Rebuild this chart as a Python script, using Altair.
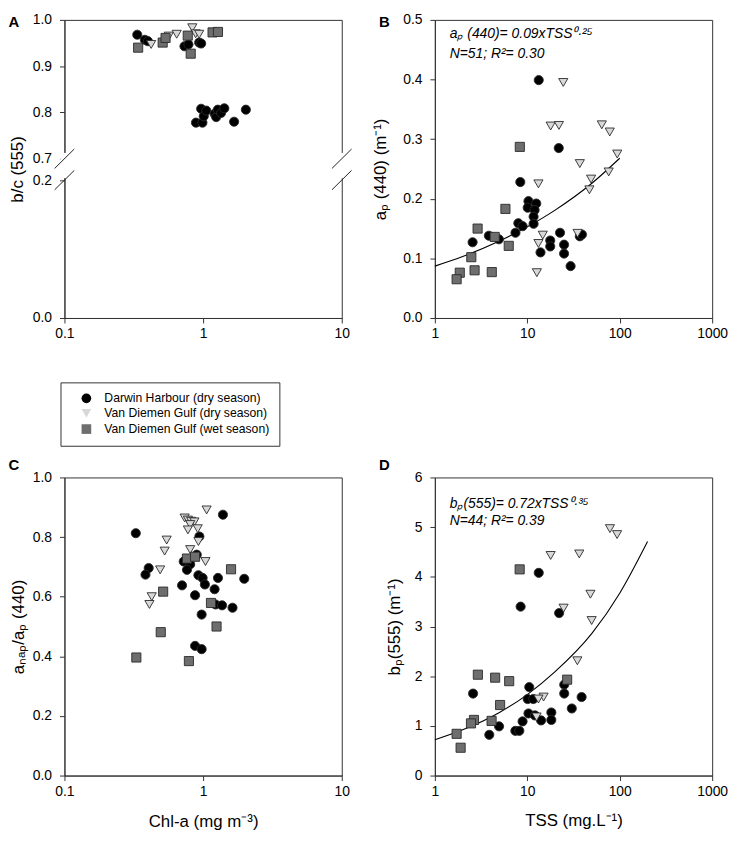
import altair as alt
import pandas as pd

FONT = "Liberation Sans"
GROUPS = ["Darwin Harbour (dry season)", "Van Diemen Gulf (dry season)", "Van Diemen Gulf (wet season)"]
FILLS = ["#000000", "#d8d8d8", "#6e6e6e"]
SHAPES = ["circle", "triangle-down", "square"]

# ---------------- Panel A : b/c(555) vs Chl-a ----------------
a_dh_chl = [0.335, 0.38, 0.40, 0.734, 0.784, 0.937, 0.968,
            0.888, 0.968, 0.989, 1.011, 1.055, 1.21, 1.242, 1.276, 1.347, 1.422, 1.673, 2.034]
a_dh_bc = [0.968, 0.957, 0.954, 0.943, 0.947, 0.951, 0.949,
           0.778, 0.808, 0.778, 0.792, 0.804, 0.797, 0.790, 0.806, 0.799, 0.809, 0.780, 0.806]
a_vdd_chl = [0.422, 0.566, 0.645, 0.836, 0.883, 0.937]
a_vdd_bc = [0.947, 0.965, 0.969, 0.983, 0.970, 0.969]
a_vdw_chl = [0.340, 0.511, 0.536, 0.775, 0.814, 1.17, 1.28]
a_vdw_bc = [0.940, 0.951, 0.961, 0.966, 0.927, 0.973, 0.974]
a_breaks = [0.7, 0.2]

# ---------------- Panel B : a_p(440) vs TSS ----------------
b_dh_tss = [13.3, 21.9, 8.4, 10.3, 10.1, 12.5, 12.0, 11.7, 11.7, 8.0, 8.9, 7.45, 2.56, 3.84,
            4.93, 13.9, 22.6, 17.7, 17.7, 25.0, 25.0, 29.4, 37.0, 39.0]
b_dh_ap = [0.399, 0.285, 0.228, 0.196, 0.185, 0.192, 0.181, 0.170, 0.158, 0.159, 0.154, 0.143,
           0.127, 0.138, 0.132, 0.110, 0.143, 0.130, 0.120, 0.123, 0.108, 0.087, 0.137, 0.140]
b_vdd_tss = [24.5, 17.9, 22.0, 13.2, 14.7, 13.2, 12.7, 64.0, 78.0, 94.0, 37.0, 76.0, 49.0, 47.0, 35.0]
b_vdd_ap = [0.395, 0.322, 0.323, 0.225, 0.139, 0.125, 0.076, 0.324, 0.312, 0.275, 0.259, 0.245,
            0.233, 0.215, 0.142]
b_vdw_tss = [8.3, 5.8, 2.9, 4.44, 6.3, 2.48, 1.86, 1.72, 2.69, 4.13]
b_vdw_ap = [0.287, 0.183, 0.150, 0.136, 0.121, 0.102, 0.076, 0.065, 0.080, 0.077]
b_fit_tss = [1, 2, 5, 10, 20, 50, 100]
b_fit_ap = [0.087, 0.103, 0.129, 0.153, 0.181, 0.226, 0.268]
b_text = ["aₚ (440)= 0.09xTSS⁰·²⁵", "N=51; R²= 0.30"]

# ---------------- Panel C : a_NAP/a_P vs Chl-a ----------------
c_dh_chl = [0.327, 1.39, 0.94, 0.90, 0.725, 0.807, 0.765, 0.405, 0.384, 0.925, 0.992, 1.28,
            1.98, 1.03, 0.705, 1.21, 0.875, 1.23, 1.37, 1.63, 0.976, 0.875, 0.976]
c_dh_ratio = [0.813, 0.875, 0.802, 0.741, 0.718, 0.709, 0.690, 0.696, 0.674, 0.672, 0.663, 0.663,
              0.660, 0.641, 0.638, 0.625, 0.605, 0.574, 0.571, 0.563, 0.540, 0.435, 0.424]
c_vdd_chl = [1.06, 0.736, 0.777, 0.82, 0.866, 0.807, 0.777, 0.914, 0.925, 0.546, 0.528, 0.807,
             1.04, 0.49, 0.426, 0.41]
c_vdd_ratio = [0.891, 0.864, 0.857, 0.853, 0.851, 0.842, 0.824, 0.828, 0.785, 0.790, 0.753, 0.758,
               0.718, 0.690, 0.600, 0.574]
c_vdw_chl = [0.765, 0.875, 1.59, 0.515, 1.14, 1.25, 0.495, 0.33, 0.79]
c_vdw_ratio = [0.728, 0.734, 0.692, 0.617, 0.579, 0.500, 0.481, 0.396, 0.384]

# ---------------- Panel D : b_p(555) vs TSS ----------------
d_dh_tss = [13.3, 8.47, 22.1, 2.59, 10.5, 10.1, 11.6, 10.3, 12.1, 14.1, 18.2, 18.2, 25.1, 25.1,
            30.3, 38.7, 8.89, 4.95, 3.88, 7.43, 8.2]
d_dh_bp = [4.08, 3.40, 3.27, 1.65, 1.78, 1.54, 1.54, 1.25, 1.21, 1.11, 1.27, 1.12, 1.83, 1.65,
           1.35, 1.58, 1.09, 0.99, 0.82, 0.90, 0.90]
d_vdd_tss = [78.4, 93.7, 17.9, 36.5, 48.2, 49.7, 24.7, 34.8, 15.0, 13.2, 12.6]
d_vdd_bp = [4.97, 4.85, 4.43, 4.46, 3.65, 3.12, 3.37, 2.31, 1.58, 1.54, 1.18]
d_vdw_tss = [8.27, 2.92, 4.49, 6.37, 27.0, 5.08, 2.65, 2.46, 4.11, 1.72, 1.90]
d_vdw_bp = [4.15, 2.03, 1.97, 1.90, 1.93, 1.42, 1.12, 1.05, 1.10, 0.84, 0.56]
d_fit_tss = [1, 2, 5, 10, 20, 50, 100, 200]
d_fit_bp = [0.72, 0.92, 1.27, 1.63, 2.09, 2.86, 3.67, 4.71]
d_text = ["bₚ(555)= 0.72xTSS⁰·³⁵", "N=44; R²= 0.39"]

W, H = 280, 301


def frame(series):
    rows = []
    for g, xs, ys in series:
        for xv, yv in zip(xs, ys):
            rows.append({"x": xv, "y": yv, "group": g})
    return pd.DataFrame(rows)


fill_enc = alt.Fill("group:N", scale=alt.Scale(domain=GROUPS, range=FILLS), legend=alt.Legend(title=None))
shape_enc = alt.Shape("group:N", scale=alt.Scale(domain=GROUPS, range=SHAPES), legend=alt.Legend(title=None))


def points(df, x, y, extra=None):
    base = alt.Chart(df)
    if extra is not None:
        base = base.transform_calculate(**extra)
    return base.mark_point(filled=True, size=85, stroke="#2a2a2a", strokeWidth=0.9, opacity=1).encode(
        x=x, y=y, fill=fill_enc, shape=shape_enc)


def letter(t, yy):
    return alt.Chart(pd.DataFrame({"t": [t]})).mark_text(
        fontSize=15, fontWeight="bold", font=FONT, color="black", align="center", baseline="middle"
    ).encode(x=alt.value(-51), y=alt.value(yy), text="t:N")


def ann(lines, ys):
    out = []
    for txt, yy in zip(lines, ys):
        out.append(alt.Chart(pd.DataFrame({"t": [txt]})).mark_text(
            align="left", baseline="middle", fontStyle="italic", fontSize=14, font=FONT, color="black"
        ).encode(x=alt.value(15), y=alt.value(yy), text="t:N"))
    return out


chl_scale = alt.Scale(type="log", domain=[0.1, 10])
tss_scale = alt.Scale(type="log", domain=[1, 1000])

# ---- Panel A (broken y axis: 0-0.2 lower segment, 0.7-1.0 upper segment) ----
T_EXPR = "datum.y >= 0.5 ? 164 + (datum.y - 0.7) / 0.3 * 143 : datum.y / 0.2 * 142"
a_df = frame([(GROUPS[0], a_dh_chl, a_dh_bc), (GROUPS[1], a_vdd_chl, a_vdd_bc), (GROUPS[2], a_vdw_chl, a_vdw_bc)])
a_y = alt.Y("t:Q", scale=alt.Scale(domain=[0, 307], nice=False, zero=False),
            axis=alt.Axis(values=[0, 142, 164, 211.667, 259.333, 307], title="b/c (555)",
                          titleX=-47, titleBaseline="middle",
                          labelExpr="datum.value < 153 ? format(datum.value / 142 * 0.2, '.1f') : "
                                    "format(0.7 + (datum.value - 164) / 143 * 0.3, '.1f')"))
a_x = alt.X("x:Q", scale=chl_scale, axis=alt.Axis(values=[0.1, 1, 10], format="~g", title=None))
a_pts = points(a_df, a_x, a_y, {"t": T_EXPR})

brk = pd.DataFrame([{"x": xv, "y": yv} for xv in [0.1, 10] for yv in a_breaks])
a_cover = alt.Chart(pd.DataFrame({"x": [0.1, 10]})).transform_calculate(
    xa="datum.x / 1.07", xb="datum.x * 1.07", ta="144", tb="170"
).mark_rect(fill="white").encode(x="xa:Q", x2="xb:Q", y="ta:Q", y2="tb:Q")
a_slash = alt.Chart(brk).transform_calculate(t=T_EXPR).transform_calculate(
    xa="datum.x / 1.177", xb="datum.x * 1.177", ta="datum.t - 10", tb="datum.t + 10"
).mark_rule(color="#222", strokeWidth=1).encode(x="xa:Q", x2="xb:Q", y="ta:Q", y2="tb:Q")
panel_a = alt.layer(a_pts, a_cover, a_slash, letter("A", 2)).properties(width=W, height=H)

# ---- Panel B ----
b_df = frame([(GROUPS[0], b_dh_tss, b_dh_ap), (GROUPS[1], b_vdd_tss, b_vdd_ap), (GROUPS[2], b_vdw_tss, b_vdw_ap)])
b_x = alt.X("x:Q", scale=tss_scale, axis=alt.Axis(values=[1, 10, 100, 1000], format="~g", title=None))
b_y = alt.Y("y:Q", scale=alt.Scale(domain=[0, 0.5], nice=False),
            axis=alt.Axis(values=[0, 0.1, 0.2, 0.3, 0.4, 0.5], format=".1f", title="aₚ (440) (m⁻¹)",
                          titleX=-55, titleBaseline="middle"))
b_fit = alt.Chart(pd.DataFrame({"x": b_fit_tss, "y": b_fit_ap})).mark_line(
    color="black", strokeWidth=1.1, interpolate="monotone").encode(x=b_x, y=b_y)
panel_b = alt.layer(b_fit, points(b_df, b_x, b_y), *ann(b_text, [14, 34]), letter("B", 2)).properties(
    width=W, height=H)

# ---- Panel C ----
c_df = frame([(GROUPS[0], c_dh_chl, c_dh_ratio), (GROUPS[1], c_vdd_chl, c_vdd_ratio), (GROUPS[2], c_vdw_chl, c_vdw_ratio)])
c_x = alt.X("x:Q", scale=chl_scale, axis=alt.Axis(values=[0.1, 1, 10], format="~g", title="Chl-a (mg m⁻³)",
                                                 titleY=46, titleBaseline="middle"))
c_y = alt.Y("y:Q", scale=alt.Scale(domain=[0, 1], nice=False),
            axis=alt.Axis(values=[0, 0.2, 0.4, 0.6, 0.8, 1.0], format=".1f", title="aₙₐₚ/aₚ (440)",
                          titleX=-46, titleBaseline="middle"))
panel_c = alt.layer(points(c_df, c_x, c_y), letter("C", -13)).properties(width=W, height=H)

# ---- Panel D ----
d_df = frame([(GROUPS[0], d_dh_tss, d_dh_bp), (GROUPS[1], d_vdd_tss, d_vdd_bp), (GROUPS[2], d_vdw_tss, d_vdw_bp)])
d_x = alt.X("x:Q", scale=tss_scale, axis=alt.Axis(values=[1, 10, 100, 1000], format="~g", title="TSS (mg.L⁻¹)",
                                                 titleY=45, titleBaseline="middle"))
d_y = alt.Y("y:Q", scale=alt.Scale(domain=[0, 6], nice=False),
            axis=alt.Axis(values=[0, 1, 2, 3, 4, 5, 6], format="d", title="bₚ(555) (m⁻¹)",
                          titleX=-41, titleBaseline="middle"))
d_fit = alt.Chart(pd.DataFrame({"x": d_fit_tss, "y": d_fit_bp})).mark_line(
    color="black", strokeWidth=1.1, interpolate="monotone").encode(x=d_x, y=d_y)
panel_d = alt.layer(d_fit, points(d_df, d_x, d_y), *ann(d_text, [27, 44]), letter("D", -13)).properties(
    width=W, height=H)

chart = alt.concat(panel_a, panel_b, panel_c, panel_d, columns=2,
                   spacing={"row": 161, "column": 94}, bounds="flush").resolve_scale(
    fill="shared", shape="shared"
).properties(padding=0).configure(font=FONT).configure_view(
    stroke="#333333", strokeWidth=1
).configure_axis(
    grid=False, domainColor="#333333", domainWidth=1, tickColor="#333333", tickSize=5,
    labelFont=FONT, labelFontSize=14, labelColor="black", labelFlush=False, labelPadding=4,
    titleFont=FONT, titleFontSize=17, titleFontWeight="normal", titleColor="black"
).configure_axisY(labelPadding=8).configure_legend(
    orient="none", legendX=-4, legendY=366, direction="vertical", strokeColor="#333333",
    fillColor="white", padding=10, labelFont=FONT, labelFontSize=12.3, labelColor="black",
    labelLimit=400, symbolStrokeColor="#2a2a2a", symbolStrokeWidth=0.9, symbolSize=95, rowPadding=2,
    labelOffset=12, symbolOffset=10
)

chart.save("out.html", embed_options={"renderer": "svg", "actions": False})
